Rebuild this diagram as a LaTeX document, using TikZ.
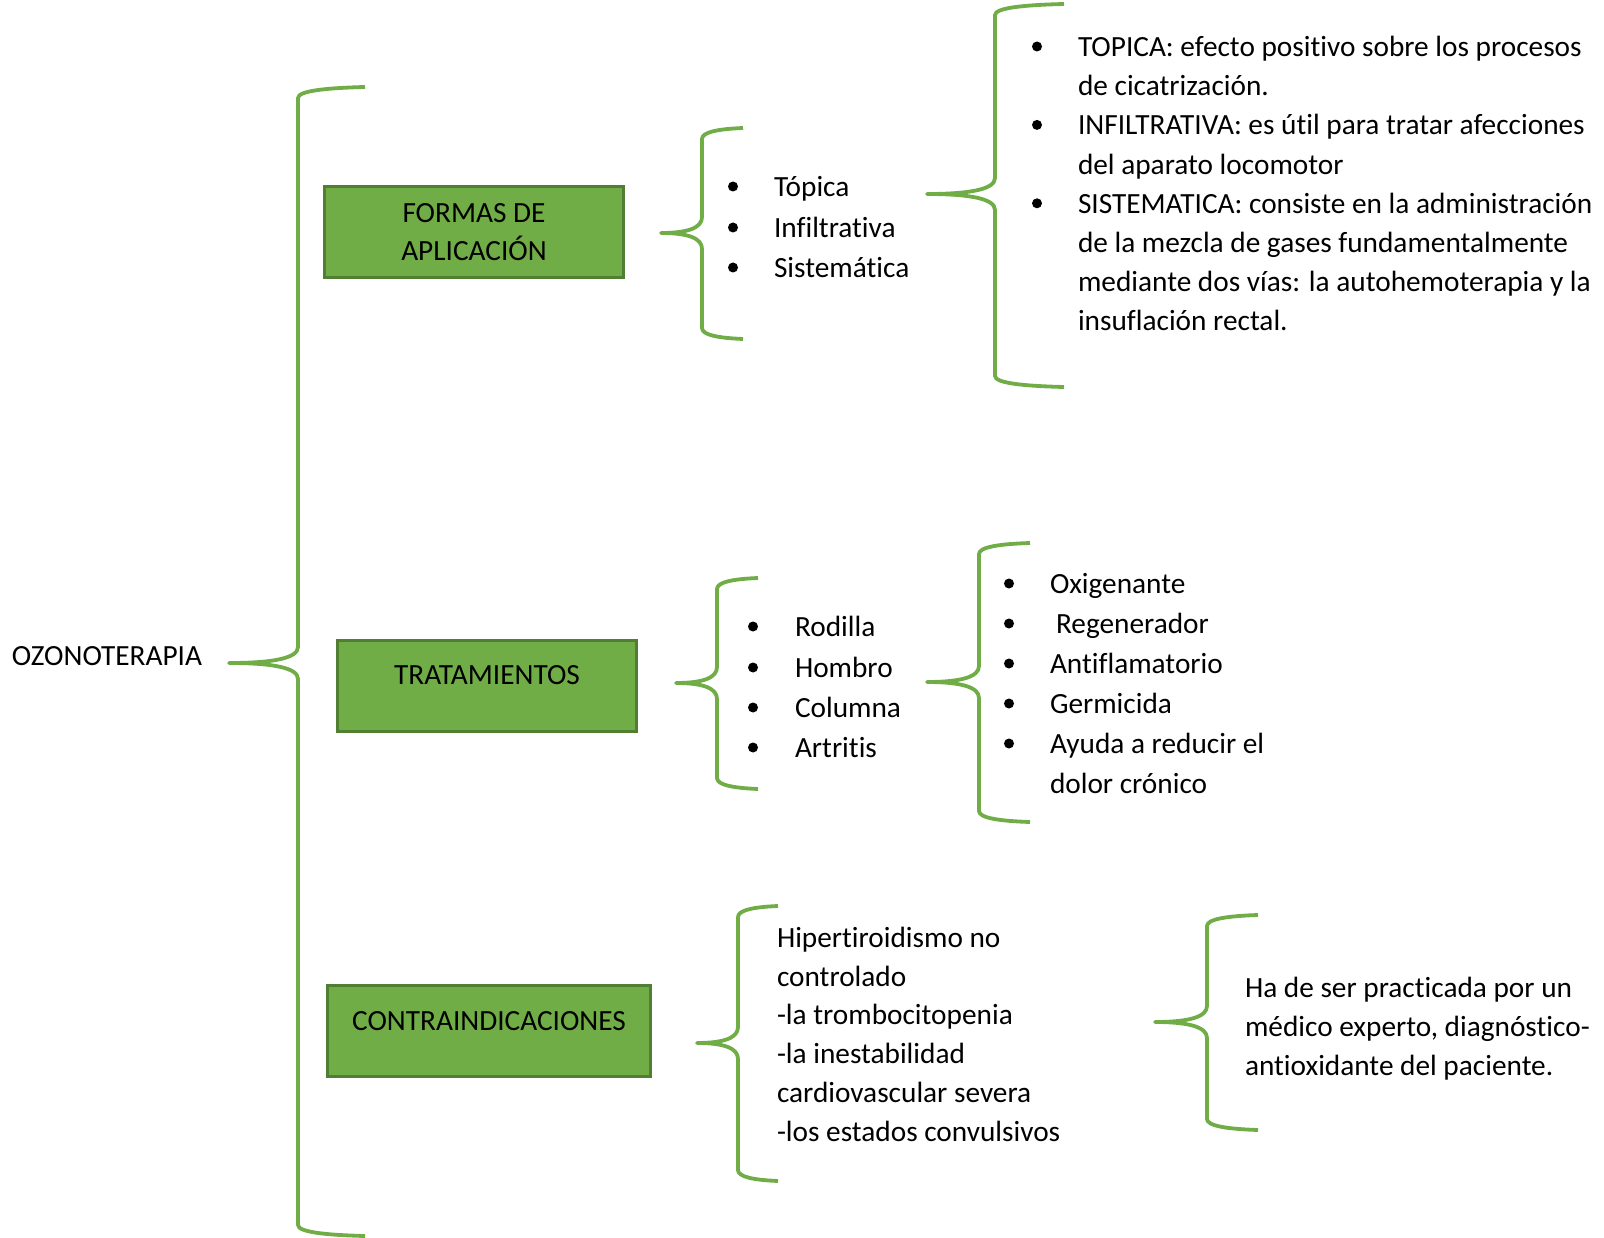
\documentclass[tikz,border=0pt]{standalone}
\usepackage{fontspec}
\setmainfont{Carlito}[Ligatures=NoCommon]
\definecolor{bracegreen}{HTML}{70AD47}
\definecolor{boxgreen}{HTML}{70AD47}
\definecolor{bordergreen}{HTML}{507E32}
\newcommand\drawbrace[6]{% xv xe ytop ybot xc yc
  \draw[bracepath] (#2,#3) .. controls ({#1+0.4*(#2-#1)},{#3+1}) and (#1,{#3+4}) .. (#1,{#3+11})
    -- (#1,{#6-16}) .. controls (#1,{#6-5}) and ({#1-0.35*(#1-#5)},#6) .. (#5,#6)
    .. controls ({#1-0.35*(#1-#5)},#6) and (#1,{#6+5}) .. (#1,{#6+16})
    -- (#1,{#4-11}) .. controls (#1,{#4-4}) and ({#1+0.4*(#2-#1)},{#4-1}) .. (#2,#4);
}
\begin{document}
\begin{tikzpicture}[x=1pt,y=-1pt,
  every node/.style={font=\fontsize{29.3pt}{39.2pt}\selectfont, inner sep=0pt, outer sep=0pt},
  txt/.style={anchor=base west},
  bul/.style={circle, fill=black, minimum size=10pt, inner sep=0pt},
  greenbox/.style={draw=bordergreen, fill=boxgreen, line width=2.7pt, minimum height=91.3pt, align=center},
  bracepath/.style={draw=bracegreen, line width=3.8pt, line join=round},
]
\useasboundingbox (0,0) rectangle (1604,1238);

% root
\node[txt] (root) at (12,665) {OZONOTERAPIA};

% main brace
\drawbrace{298}{365}{87}{1236}{229}{663}

% boxes
\node[greenbox, minimum width=299.3pt] (formas) at (474,232) {FORMAS DE\\[-1.2pt]APLICACIÓN};
\node[greenbox, minimum width=299.3pt, text height=10pt, text depth=13pt] (trat) at (487,686) {TRATAMIENTOS};
\node[greenbox, minimum width=323.3pt, text height=10pt, text depth=11pt] (contra) at (489,1031) {CONTRAINDICACIONES};

% formas de aplicacion
\drawbrace{702}{743}{128}{339}{661}{233}
\node[bul] (b1) at (733,186.5) {};
\node[bul] (b2) at (733,227.5) {};
\node[bul] (b3) at (733,267.5) {};
\node[txt] (t1) at (774,196.5) {Tópica};
\node[txt] (t2) at (774,237.5) {Infiltrativa};
\node[txt] (t3) at (774,277.5) {Sistemática};

\drawbrace{995}{1064}{4}{387}{927}{194}
\node[bul] (d1) at (1037,46.5) {};
\node[bul] (d2) at (1037,124.9) {};
\node[bul] (d3) at (1037,203.3) {};
\node[txt] (f1) at (1078,56.5) {TOPICA: efecto positivo sobre los procesos};
\node[txt] (f2) at (1078,95.7) {de cicatrización.};
\node[txt] (f3) at (1078,134.9) {INFILTRATIVA: es útil para tratar afecciones};
\node[txt] (f4) at (1078,174.1) {del aparato locomotor};
\node[txt] (f5) at (1078,213.3) {SISTEMATICA: consiste en la administración};
\node[txt] (f6) at (1078,252.5) {de la mezcla de gases fundamentalmente};
\node[txt] (f7) at (1078,291.7) {mediante dos vías: la autohemoterapia y la};
\node[txt] (f8) at (1078,330.9) {insuflación rectal.};

% tratamientos
\drawbrace{717}{758}{578}{789}{676}{683}
\node[bul] (c1) at (753,626.5) {};
\node[bul] (c2) at (753,667.5) {};
\node[bul] (c3) at (753,707.5) {};
\node[bul] (c4) at (753,747.5) {};
\node[txt] (r1) at (795,636.5) {Rodilla};
\node[txt] (r2) at (795,677.5) {Hombro};
\node[txt] (r3) at (795,717.5) {Columna};
\node[txt] (r4) at (795,757.5) {Artritis};

\drawbrace{979}{1030}{543}{822}{927}{682}
\node[bul] (e1) at (1009,583.5) {};
\node[bul] (e2) at (1009,623.5) {};
\node[bul] (e3) at (1009,663.5) {};
\node[bul] (e4) at (1009,703.5) {};
\node[bul] (e5) at (1009,743.5) {};
\node[txt] (o1) at (1050,593.5) {Oxigenante};
\node[txt] (o2) at (1056,633.5) {Regenerador};
\node[txt] (o3) at (1050,673.5) {Antiflamatorio};
\node[txt] (o4) at (1050,713.5) {Germicida};
\node[txt] (o5) at (1050,753.5) {Ayuda a reducir el};
\node[txt] (o6) at (1050,793.5) {dolor crónico};

% contraindicaciones
\drawbrace{738}{778}{906}{1181}{697}{1043}
\node[txt] (h1) at (777,947.5) {Hipertiroidismo no};
\node[txt] (h2) at (777,986.5) {controlado};
\node[txt] (h3) at (777,1024.5) {-la trombocitopenia};
\node[txt] (h4) at (777,1063.5) {-la inestabilidad};
\node[txt] (h5) at (777,1102.5) {cardiovascular severa};
\node[txt] (h6) at (777,1141.5) {-los estados convulsivos};

\drawbrace{1207}{1258}{915}{1130}{1155}{1022}
\node[txt] (m1) at (1245,997.5) {Ha de ser practicada por un};
\node[txt] (m2) at (1245,1036.5) {médico experto, diagnóstico-};
\node[txt] (m3) at (1245,1075.5) {antioxidante del paciente.};
\end{tikzpicture}
\end{document}
